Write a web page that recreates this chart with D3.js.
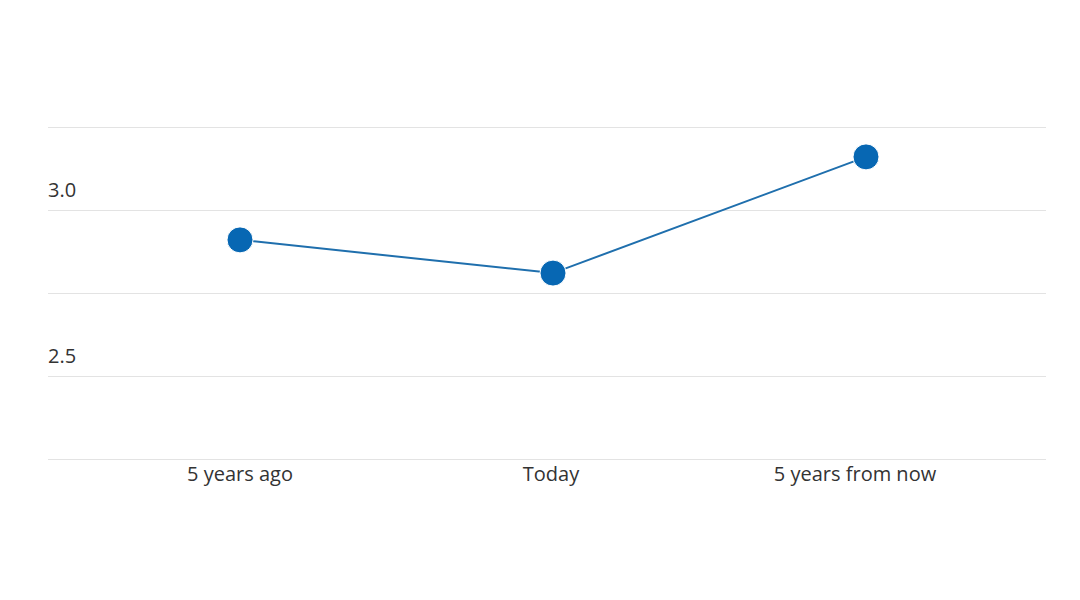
<!DOCTYPE html>
<html>
<head>
<meta charset="utf-8">
<script src="https://cdn.jsdelivr.net/npm/d3@7"></script>
<style>
  body { margin: 0; background: #fff; }
  text { font-family: "Open Sans", "Noto Sans", sans-serif; fill: #333; }
</style>
</head>
<body>
<div id="chart"></div>
<script>
var periods = ["5 years ago", "Today", "5 years from now"];
var values = [2.91, 2.81, 3.16];
var gridTicks = [2.25, 2.5, 2.75, 3.0, 3.25];
var labelTicks = [2.5, 3.0];

var width = 1080, height = 600;
var left = 48, right = 1046;

var svg = d3.select("#chart").append("svg")
  .attr("width", width)
  .attr("height", height);

var x = d3.scalePoint().domain(periods).range([240, 866]);
var y = d3.scaleLinear().domain([2.25, 3.25]).range([459, 127]);

// gridlines
svg.append("g")
  .selectAll("line")
  .data(gridTicks)
  .enter().append("line")
  .attr("x1", left)
  .attr("x2", right)
  .attr("y1", function(d) { return y(d) + 0.5; })
  .attr("y2", function(d) { return y(d) + 0.5; })
  .attr("stroke", "#e3e3e3")
  .attr("stroke-width", 1);

// y labels sit above their line
svg.append("g")
  .selectAll("text")
  .data(labelTicks)
  .enter().append("text")
  .attr("x", left)
  .attr("y", function(d) { return y(d) - 13; })
  .style("font-size", "20px")
  .text(function(d) { return d.toFixed(1); });

// x labels
svg.append("g")
  .selectAll("text")
  .data(periods)
  .enter().append("text")
  .attr("x", function(d, i) { return x(d) - [0, 2, 11][i]; })
  .attr("y", 481)
  .attr("text-anchor", "middle")
  .style("font-size", "20px")
  .text(function(d) { return d; });

var line = d3.line()
  .x(function(d, i) { return x(periods[i]); })
  .y(function(d) { return y(d); });

svg.append("path")
  .datum(values)
  .attr("d", line)
  .attr("fill", "none")
  .attr("stroke", "#1f6fad")
  .attr("stroke-width", 2);

svg.append("g")
  .selectAll("circle")
  .data(values)
  .enter().append("circle")
  .attr("cx", function(d, i) { return x(periods[i]); })
  .attr("cy", function(d) { return y(d); })
  .attr("r", 13)
  .attr("fill", "#0767b3")
  .attr("stroke", "#fff")
  .attr("stroke-width", 1);
</script>
</body>
</html>
